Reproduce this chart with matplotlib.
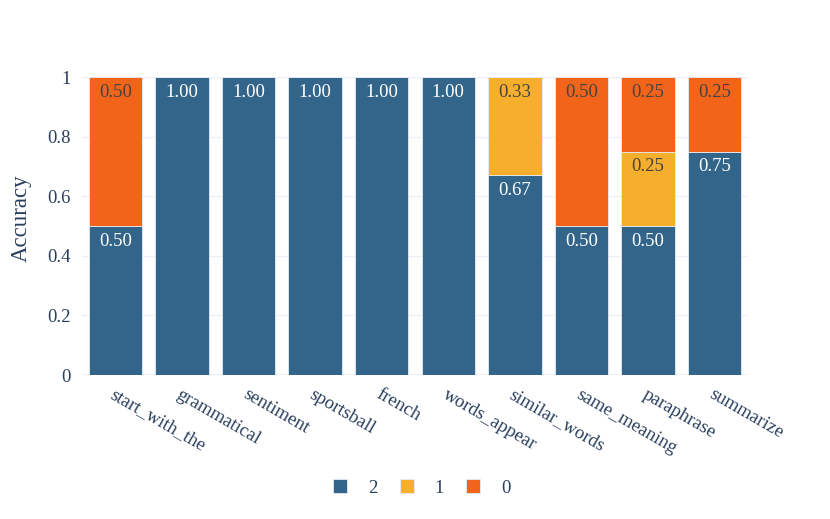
import matplotlib.pyplot as plt
import numpy as np

# Data
tasks = ['start_with_the', 'grammatical', 'sentiment', 'sportsball', 'french',
         'words_appear', 'similar_words', 'same_meaning', 'paraphrase', 'summarize']
score_2 = [0.50, 1.00, 1.00, 1.00, 1.00, 1.00, 0.67, 0.50, 0.50, 0.75]
score_1 = [0.00, 0.00, 0.00, 0.00, 0.00, 0.00, 0.33, 0.00, 0.25, 0.00]
score_0 = [0.50, 0.00, 0.00, 0.00, 0.00, 0.00, 0.00, 0.50, 0.25, 0.25]

series = [('2', score_2, '#33658A', 'white'),
          ('1', score_1, '#F6AE2D', '#444444'),
          ('0', score_0, '#F26419', '#444444')]

plt.rcParams['font.family'] = ['Liberation Serif', 'DejaVu Serif']
text_color = '#2a3f5f'

fig = plt.figure(figsize=(8.3, 5.19), dpi=100)
ax = fig.add_axes([82 / 830, 1 - 375 / 519, 666 / 830, 298 / 519])

x = np.arange(len(tasks))
bottom = np.zeros(len(tasks))
for name, vals, color, tcolor in series:
    vals = np.array(vals)
    ax.bar(x, vals, width=0.8, bottom=bottom, color=color,
           edgecolor='#E5ECF6', linewidth=0.6, label=name, zorder=2)
    for xi, b, v in zip(x, bottom, vals):
        if v > 0:
            ax.annotate(f'{v:.2f}', (xi, b + v), xytext=(0, -5),
                        textcoords='offset points', ha='center', va='top',
                        color=tcolor, fontsize=13.5, zorder=3)
    bottom += vals

ax.set_xlim(-0.5, len(tasks) - 0.5)
ax.set_ylim(0, 1)
ax.set_yticks([0, 0.2, 0.4, 0.6, 0.8, 1])
ax.set_yticklabels(['0', '0.2', '0.4', '0.6', '0.8', '1'])
ax.set_xticks(x)
ax.set_xticklabels(tasks, rotation=-30, ha='left', va='top', rotation_mode='anchor')
ax.tick_params(axis='both', length=0, labelsize=13.5, colors=text_color)
ax.tick_params(axis='x', pad=8)
ax.tick_params(axis='y', pad=8)
ax.grid(axis='y', color='#EBF0F8', linewidth=1, zorder=0)
for s in ax.spines.values():
    s.set_visible(False)
ax.axhline(0, color='#EBF0F8', linewidth=1.5, zorder=1)

ax.set_ylabel('Accuracy', fontsize=16.5, color=text_color)
ax.yaxis.set_label_coords(-0.075, 0.525)

ax.legend(loc='center', bbox_to_anchor=(0.508, 1 - 488 / 519), bbox_transform=fig.transFigure,
          ncol=3, frameon=False, fontsize=13.5, labelcolor=text_color,
          handlelength=0.75, handleheight=0.75, columnspacing=1.2, handletextpad=1.1)

fig.savefig('out.png', dpi=100)
